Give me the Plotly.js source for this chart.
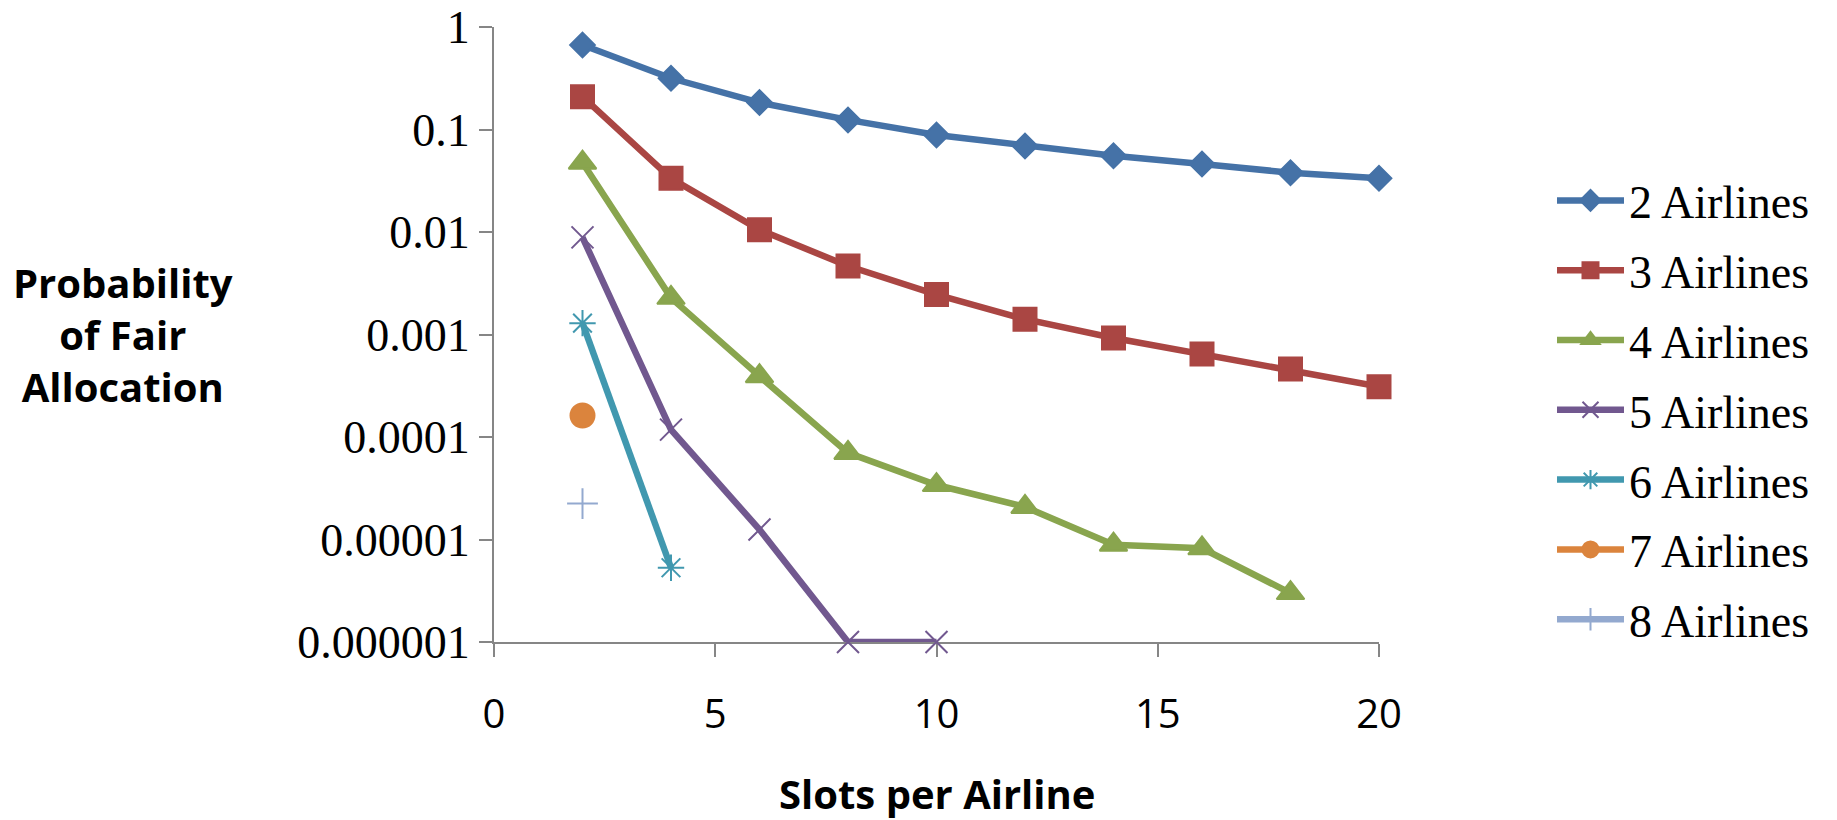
<!DOCTYPE html>
<html>
<head>
<meta charset="utf-8">
<script src="https://cdn.plot.ly/plotly-3.0.1.min.js"></script>
<style>html,body{margin:0;padding:0;background:#fff;}#chart{width:1837px;height:820px;}</style>
</head>
<body>
<div id="chart"></div>
<script>
// Slots per airline
const slots = [2, 4, 6, 8, 10, 12, 14, 16, 18, 20];
// Probability of fair allocation, per number of airlines
const airlines2 = [0.667, 0.316, 0.183, 0.124, 0.0883, 0.069, 0.0555, 0.046, 0.0379, 0.0334];
const airlines3 = [0.209, 0.0334, 0.0105, 0.00466, 0.00245, 0.00141, 0.000925, 0.000645, 0.00046, 0.00031];
const airlines4 = [0.0475, 0.00228, 0.000392, 0.00007, 0.000034, 0.0000208, 0.0000089, 0.0000082, 0.000003];
const airlines5 = [0.00887, 0.000118, 0.0000125, 0.000001, 0.000001];
const airlines6 = [0.00129, 0.0000053];
const airlines7 = [0.000162];
const airlines8 = [0.0000224];
const seriesNames = ["2 Airlines", "3 Airlines", "4 Airlines", "5 Airlines", "6 Airlines", "7 Airlines", "8 Airlines"];
const yTickVals = [1, 0.1, 0.01, 0.001, 0.0001, 0.00001, 0.000001];
const yTickText = ["1", "0.1", "0.01", "0.001", "0.0001", "0.00001", "0.000001"];
const xTickVals = [0, 5, 10, 15, 20];

const allSeries = [airlines2, airlines3, airlines4, airlines5, airlines6, airlines7, airlines8];
const colors = ["#4572A7", "#AA4643", "#89A54E", "#71588F", "#4198AF", "#DB843D", "#93A9CF"];
const symbols = ["diamond", "square", "triangle-up", "x-thin-open", "asterisk-open", "circle", "cross-thin-open"];
const sizes = [19, 23, 24, 22, 22, 24, 22];

const traces = allSeries.map((vals, i) => ({
  type: "scatter",
  mode: "lines+markers",
  name: seriesNames[i],
  legendgroup: "g" + i,
  x: slots.slice(0, vals.length),
  y: vals,
  cliponaxis: false,
  line: { color: colors[i], width: 6.5 },
  marker: { symbol: symbols[i], size: sizes[i], color: colors[i], line: { color: colors[i], width: 2 } }
}));

const L = 494, R = 1379, T = 27, B = 642;
const pw = R - L, ph = B - T;
const px = v => (v - L) / pw;
const py = v => (B - v) / ph;

const layout = {
  width: 1837, height: 820,
  margin: { l: L, r: 1837 - R, t: T, b: 820 - B, pad: 0 },
  paper_bgcolor: "#ffffff", plot_bgcolor: "#ffffff",
  showlegend: true,
  xaxis: {
    range: [0, 20], tickvals: xTickVals, ticktext: xTickVals.map(String),
    showline: true, linecolor: "#868686", linewidth: 2,
    ticks: "outside", ticklen: 13, tickwidth: 2, tickcolor: "#868686",
    showgrid: false, zeroline: false, layer: "below traces",
    tickfont: { family: "Open Sans", size: 40, color: "#000" },
    ticklabelstandoff: 23
  },
  yaxis: {
    type: "log", range: [-6, 0], tickvals: yTickVals, ticktext: yTickText,
    showline: true, linecolor: "#868686", linewidth: 2,
    ticks: "outside", ticklen: 13, tickwidth: 2, tickcolor: "#868686",
    showgrid: false, zeroline: false, layer: "below traces",
    tickfont: { family: "Liberation Serif", size: 46, color: "#000" }
  },
  legend: {
    x: px(1552), y: py(164), xanchor: "left", yanchor: "top",
    font: { family: "Liberation Serif", size: 46, color: "#000" },
    itemwidth: 67, traceorder: "grouped", tracegroupgap: 7,
    bgcolor: "rgba(0,0,0,0)"
  },
  annotations: [
    { text: "<b>Slots per Airline</b>", xref: "paper", yref: "paper", x: 0.5, y: py(793),
      xanchor: "center", yanchor: "middle", showarrow: false,
      font: { family: "Open Sans", size: 40, color: "#000" } },
    { text: "<b>Probability<br>of Fair<br>Allocation</b>", xref: "paper", yref: "paper", x: px(123), y: py(335),
      xanchor: "center", yanchor: "middle", showarrow: false, align: "center",
      font: { family: "Open Sans", size: 40, color: "#000" } }
  ]
};

Plotly.newPlot("chart", traces, layout, { displayModeBar: false, staticPlot: true });
</script>
</body>
</html>
